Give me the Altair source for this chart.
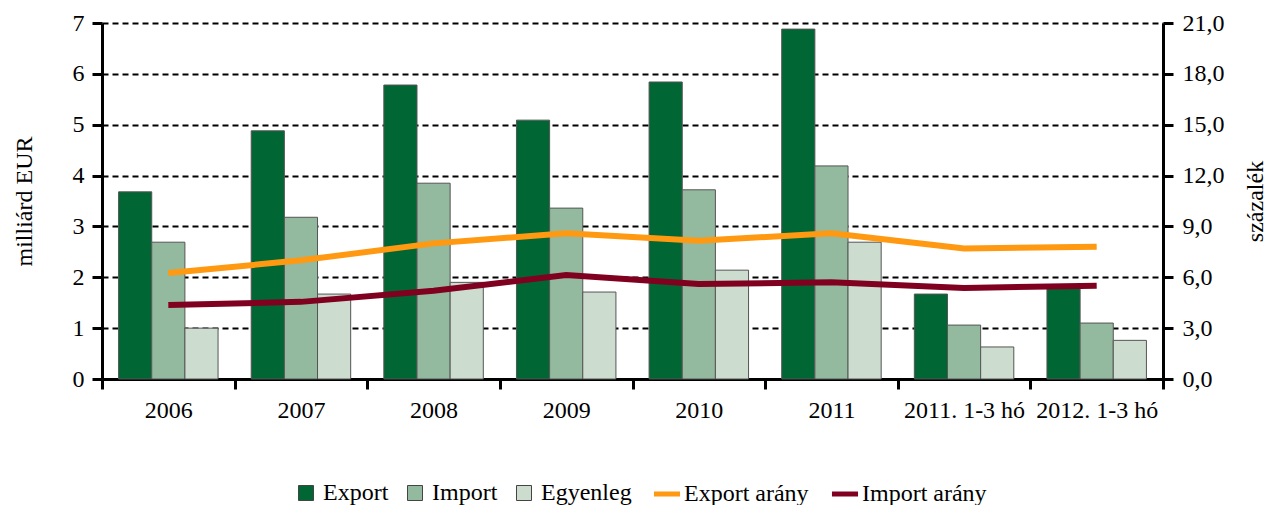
import altair as alt
import pandas as pd

categories = ["2006", "2007", "2008", "2009", "2010", "2011", "2011. 1-3 hó", "2012. 1-3 hó"]
export_vals = [3.68, 4.88, 5.78, 5.09, 5.84, 6.88, 1.67, 1.79]
import_vals = [2.69, 3.18, 3.85, 3.36, 3.72, 4.19, 1.06, 1.10]
egyenleg_vals = [1.00, 1.67, 1.90, 1.71, 2.14, 2.69, 0.63, 0.76]
export_arany = [6.25, 7.0, 8.0, 8.6, 8.15, 8.6, 7.7, 7.8]
import_arany = [4.37, 4.55, 5.2, 6.13, 5.6, 5.7, 5.37, 5.5]

bar_series = ["Export", "Import", "Egyenleg"]
bar_colors = ["#006633", "#93BA9E", "#CCDDD0"]
line_series = ["Export arány", "Import arány"]
line_colors = ["#FF9911", "#800020"]

rows = []
for s, vals in zip(bar_series, [export_vals, import_vals, egyenleg_vals]):
    for c, v in zip(categories, vals):
        rows.append({"cat": c, "series": s, "value": v})
bars_df = pd.DataFrame(rows)

rows = []
for s, vals in zip(line_series, [export_arany, import_arany]):
    for c, v in zip(categories, vals):
        rows.append({"cat": c, "series": s, "value": v})
lines_df = pd.DataFrame(rows)

FONT = "Liberation Serif"
FS = 24

x_enc = alt.X(
    "cat:N",
    sort=categories,
    title=None,
    scale=alt.Scale(paddingInner=0, paddingOuter=0),
    axis=alt.Axis(
        tickBand="extent",
        labelAngle=0,
        labelFont=FONT,
        labelFontSize=FS,
        labelColor="black",
        labelPadding=9,
        labelOverlap=False,
        tickSize=10,
        tickWidth=3,
        tickColor="black",
        domainColor="black",
        domainWidth=3,
        grid=False,
    ),
)

bars = alt.Chart(bars_df).mark_bar(stroke="#555555", strokeWidth=1).encode(
    x=x_enc,
    xOffset=alt.XOffset("series:N", sort=bar_series,
                        scale=alt.Scale(paddingInner=0, paddingOuter=0.5)),
    y=alt.Y(
        "value:Q",
        scale=alt.Scale(domain=[0, 7], nice=False),
        axis=alt.Axis(
            values=[0, 1, 2, 3, 4, 5, 6, 7],
            title="milliárd EUR",
            titleFont=FONT,
            titleFontSize=FS,
            titleFontWeight="normal",
            titleColor="black",
            titlePadding=36,
            labelFont=FONT,
            labelFontSize=FS,
            labelColor="black",
            labelPadding=8,
            tickSize=10,
            tickWidth=3,
            tickColor="black",
            domainColor="black",
            domainWidth=3,
            grid=True,
            gridColor="black",
            gridWidth=2,
            gridDash=[6, 4],
        ),
    ),
    fill=alt.Fill(
        "series:N",
        sort=bar_series,
        scale=alt.Scale(domain=bar_series, range=bar_colors),
        legend=alt.Legend(
            title=None,
            orient="none",
            legendX=192,
            legendY=458,
            direction="horizontal",
            symbolType="square",
            symbolSize=225,
            symbolStrokeColor="#444444",
            symbolStrokeWidth=1,
            labelFont=FONT,
            labelFontSize=FS,
            labelColor="black",
            columnPadding=14,
            labelOffset=5,
        ),
    ),
)

lines = alt.Chart(lines_df).mark_line(strokeWidth=6).encode(
    x=alt.X("cat:N", sort=categories),
    y=alt.Y(
        "value:Q",
        scale=alt.Scale(domain=[0, 21], nice=False),
        axis=alt.Axis(
            orient="right",
            values=[0, 3, 6, 9, 12, 15, 18, 21],
            labelExpr="replace(format(datum.value, '.1f'), '.', ',')",
            title="százalék",
            titleAngle=270,
            titleFont=FONT,
            titleFontSize=FS,
            titleFontWeight="normal",
            titleColor="black",
            titlePadding=43,
            labelFont=FONT,
            labelFontSize=FS,
            labelColor="black",
            labelPadding=9,
            tickSize=10,
            tickWidth=3,
            tickColor="black",
            domainColor="black",
            domainWidth=3,
            grid=False,
        ),
    ),
    stroke=alt.Stroke(
        "series:N",
        sort=line_series,
        scale=alt.Scale(domain=line_series, range=line_colors),
        legend=alt.Legend(
            title=None,
            orient="none",
            legendX=549,
            legendY=455,
            direction="horizontal",
            symbolType="stroke",
            symbolSize=680,
            symbolStrokeWidth=5,
            labelFont=FONT,
            labelFontSize=FS,
            labelColor="black",
            columnPadding=12,
            labelOffset=1,
        ),
    ),
)

chart = (
    alt.layer(bars, lines)
    .resolve_scale(y="independent", fill="independent", stroke="independent")
    .properties(
        width=1061,
        height=356,
        autosize=alt.AutoSizeParams(type="none"),
        padding={"left": 94, "top": 15, "right": 114, "bottom": 126},
        background="white",
    )
    .configure_view(stroke=None)
)

chart.save("out.html", embed_options={"renderer": "svg", "actions": False})
